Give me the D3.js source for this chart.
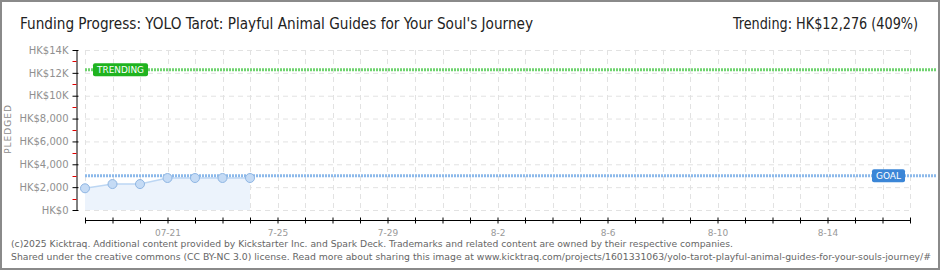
<!DOCTYPE html>
<html>
<head>
<meta charset="utf-8">
<script src="https://cdn.jsdelivr.net/npm/d3@7"></script>
<style>
  body { margin: 0; background: #fff; }
  svg { display: block; }
</style>
</head>
<body>
<div id="chart"></div>
<script>
const width = 940;
const height = 270;

// data
const days = ['2025-07-18', '2025-07-19', '2025-07-20', '2025-07-21', '2025-07-22', '2025-07-23', '2025-07-24'];
const pledged = [1900, 2270, 2270, 2800, 2800, 2800, 2800];
const goal = 3000;
const trending = 12276;
const yTicks = [0, 2000, 4000, 6000, 8000, 10000, 12000, 14000];
const yTickLabels = ['HK$0', 'HK$2,000', 'HK$4,000', 'HK$6,000', 'HK$8,000', 'HK$10K', 'HK$12K', 'HK$14K'];
const xLabelDays = ['2025-07-21', '2025-07-25', '2025-07-29', '2025-08-02', '2025-08-06', '2025-08-10', '2025-08-14'];
const xLabels = ['07-21', '7-25', '7-29', '8-2', '8-6', '8-10', '8-14'];
const startDay = '2025-07-18';
const endDay = '2025-08-17';

const parse = d3.timeParse('%Y-%m-%d');
const points = days.map((d, i) => ({ date: parse(d), value: pledged[i] }));
const labelByDay = {};
xLabelDays.forEach((d, i) => { labelByDay[+parse(d)] = xLabels[i]; });

const x = d3.scaleTime()
    .domain([parse(startDay), parse(endDay)])
    .range([85, 910]);
const y = d3.scaleLinear()
    .domain([0, 14000])
    .range([210, 50]);

const svg = d3.select('#chart')
    .append('svg')
    .attr('width', width)
    .attr('height', height);

svg.append('rect')
    .attr('x', 1).attr('y', 1)
    .attr('width', width - 2).attr('height', height - 2)
    .attr('fill', '#fff')
    .attr('stroke', '#8a8a8a')
    .attr('stroke-width', 2);

// titles
svg.append('text')
    .attr('x', 20).attr('y', 29)
    .attr('font-family', '"Liberation Sans Narrow", "DejaVu Sans Condensed", sans-serif')
    .attr('font-size', 16)
    .attr('fill', '#222')
    .attr('textLength', 513)
    .attr('lengthAdjust', 'spacingAndGlyphs')
    .text("Funding Progress: YOLO Tarot: Playful Animal Guides for Your Soul's Journey");

svg.append('text')
    .attr('x', 918).attr('y', 29)
    .attr('text-anchor', 'end')
    .attr('font-family', '"Liberation Sans Narrow", "DejaVu Sans Condensed", sans-serif')
    .attr('font-size', 16)
    .attr('fill', '#222')
    .attr('textLength', 185)
    .attr('lengthAdjust', 'spacingAndGlyphs')
    .text('Trending: HK$' + d3.format(',')(trending) + ' (409%)');

// grid
const allDays = d3.timeDay.range(parse(startDay), d3.timeDay.offset(parse(endDay), 1));
svg.append('g')
    .selectAll('line')
    .data(yTicks)
    .enter()
    .append('line')
    .attr('x1', 85).attr('x2', 910)
    .attr('y1', d => y(d) + 0.5).attr('y2', d => y(d) + 0.5)
    .attr('stroke', '#e2e2e2')
    .attr('stroke-dasharray', '5,4');
svg.append('g')
    .selectAll('line')
    .data(allDays)
    .enter()
    .append('line')
    .attr('x1', d => Math.round(x(d)) + 0.5).attr('x2', d => Math.round(x(d)) + 0.5)
    .attr('y1', y(14000)).attr('y2', y(0))
    .attr('stroke', '#e2e2e2')
    .attr('stroke-dasharray', '5,4');

// pledged area + line
const area = d3.area()
    .x(d => x(d.date))
    .y0(y(0))
    .y1(d => y(d.value));
const line = d3.line()
    .x(d => x(d.date))
    .y(d => y(d.value));

svg.append('path')
    .datum(points)
    .attr('d', area)
    .attr('fill', '#ecf3fc');
svg.append('path')
    .datum(points)
    .attr('d', line)
    .attr('fill', 'none')
    .attr('stroke', '#bcd6f3')
    .attr('stroke-width', 1.5);

// goal & trending lines
function refLine(value, color) {
    svg.append('line')
        .attr('x1', 85).attr('x2', 936)
        .attr('y1', y(value)).attr('y2', y(value))
        .attr('stroke', color)
        .attr('stroke-width', 3)
        .attr('stroke-dasharray', '2,1');
}
refLine(goal, '#8cb9ea');
refLine(trending, '#6fd36f');

svg.append('g')
    .selectAll('circle')
    .data(points)
    .enter()
    .append('circle')
    .attr('cx', d => x(d.date))
    .attr('cy', d => y(d.value))
    .attr('r', 4.5)
    .attr('fill', '#c5dbf5')
    .attr('stroke', '#8fb6e3')
    .attr('stroke-width', 1);

function badge(bx, value, w, text, color) {
    const g = svg.append('g');
    g.append('rect')
        .attr('x', bx).attr('y', y(value) - 6.5)
        .attr('width', w).attr('height', 13)
        .attr('rx', 2)
        .attr('fill', color);
    g.append('text')
        .attr('x', bx + 4).attr('y', y(value) + 3.5)
        .attr('font-family', '"DejaVu Sans", sans-serif')
        .attr('font-size', 9)
        .attr('fill', '#fff')
        .attr('textLength', w - 8)
        .attr('lengthAdjust', 'spacingAndGlyphs')
        .text(text);
}
badge(93, trending, 55, 'TRENDING', '#1fb31f');
badge(872, goal, 33, 'GOAL', '#3b86d7');

// y axis
const yAxis = d3.axisLeft(y)
    .tickValues(yTicks)
    .tickSize(0)
    .tickPadding(8)
    .tickFormat((d, i) => yTickLabels[i]);
const gy = svg.append('g')
    .attr('transform', 'translate(76.5,0)')
    .call(yAxis);
gy.select('.domain').attr('stroke', '#000');
gy.selectAll('text')
    .attr('font-family', '"DejaVu Sans", sans-serif')
    .attr('font-size', 10)
    .attr('fill', '#909090');
gy.selectAll('.tick')
    .append('line')
    .attr('x1', -4).attr('x2', 2)
    .attr('stroke', '#000');
gy.selectAll('.minor')
    .data(d3.range(1000, 14000, 2000))
    .enter()
    .append('line')
    .attr('class', 'minor')
    .attr('x1', -4).attr('x2', 0)
    .attr('y1', d => Math.round(y(d)) + 0.5).attr('y2', d => Math.round(y(d)) + 0.5)
    .attr('stroke', '#e00000');

svg.append('text')
    .attr('transform', 'translate(11,129) rotate(-90)')
    .attr('text-anchor', 'middle')
    .attr('font-family', '"DejaVu Sans", sans-serif')
    .attr('font-size', 9)
    .attr('letter-spacing', 1)
    .attr('fill', '#8a8a8a')
    .text('PLEDGED');

// x axis
const xAxis = d3.axisBottom(x)
    .tickValues(allDays)
    .tickSize(3)
    .tickPadding(6)
    .tickFormat(d => labelByDay[+d] || '');
const gx = svg.append('g')
    .attr('transform', 'translate(0,220.5)')
    .call(xAxis);
gx.select('.domain').attr('stroke', '#000').attr('d', 'M85,0H910');
gx.selectAll('.tick line').attr('y1', -3).attr('stroke', '#000');
gx.selectAll('text')
    .attr('font-family', '"DejaVu Sans", sans-serif')
    .attr('font-size', 9)
    .attr('fill', '#999');

// footer
const footer = [
    '(c)2025 Kicktraq. Additional content provided by Kickstarter Inc. and Spark Deck. Trademarks and related content are owned by their respective companies.',
    'Shared under the creative commons (CC BY-NC 3.0) license. Read more about sharing this image at www.kicktraq.com/projects/1601331063/yolo-tarot-playful-animal-guides-for-your-souls-journey/#'
];
const footerWidths = [722, 920];
svg.append('g')
    .selectAll('text')
    .data(footer)
    .enter()
    .append('text')
    .attr('x', 11)
    .attr('y', (d, i) => 247 + i * 13)
    .attr('font-family', '"DejaVu Sans Condensed", "Liberation Sans Narrow", sans-serif')
    .attr('font-size', 9.5)
    .attr('fill', '#666')
    .attr('textLength', (d, i) => footerWidths[i])
    .attr('lengthAdjust', 'spacingAndGlyphs')
    .text(d => d);
</script>
</body>
</html>
